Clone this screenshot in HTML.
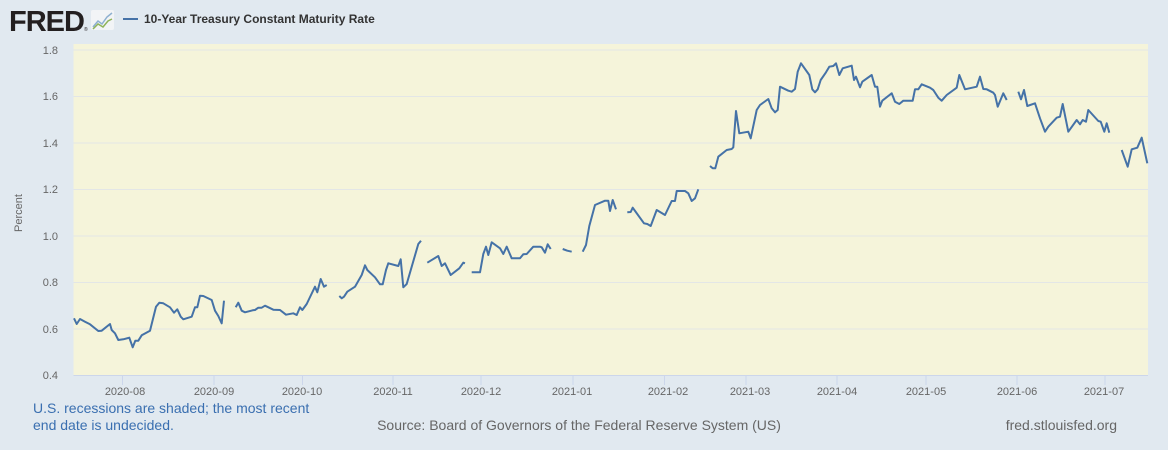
<!DOCTYPE html>
<html><head><meta charset="utf-8"><style>
body{margin:0;background:#e1e9f0;}
svg{display:block;font-family:"Liberation Sans",Arial,sans-serif;}
</style></head><body>
<svg id="s" width="1168" height="450" xmlns="http://www.w3.org/2000/svg">
<rect width="1168" height="450" fill="#e1e9f0"/>
<text x="9" y="31" font-size="29" font-weight="bold" fill="#231f20" letter-spacing="-1">FRED</text>
<text x="84" y="31" font-size="5" fill="#231f20">®</text>
<rect x="91" y="10" width="23" height="20" rx="2" fill="#f2f4f6"/>
<polyline points="93,27 98,21 102,24 107,17 112,13" fill="none" stroke="#8eb0d0" stroke-width="1.5"/>
<polyline points="93,29 98,24 103,27 108,21 112,19" fill="none" stroke="#8fb35a" stroke-width="1.5"/>
<line x1="123" y1="19" x2="138" y2="19" stroke="#4572a7" stroke-width="2"/>
<text x="144" y="23" font-size="12" font-weight="bold" fill="#333">10-Year Treasury Constant Maturity Rate</text>
<rect x="73.5" y="44" width="1074.5" height="332" fill="#f5f4da"/>
<g stroke="#e3e6e6" stroke-width="1">
<line x1="73.5" x2="1148" y1="50" y2="50"/><line x1="73.5" x2="1148" y1="96.5" y2="96.5"/>
<line x1="73.5" x2="1148" y1="143" y2="143"/><line x1="73.5" x2="1148" y1="189.5" y2="189.5"/>
<line x1="73.5" x2="1148" y1="236" y2="236"/><line x1="73.5" x2="1148" y1="282.5" y2="282.5"/>
<line x1="73.5" x2="1148" y1="329" y2="329"/>
</g>
<line x1="73.5" x2="1148" y1="375.5" y2="375.5" stroke="#ccd6eb"/>
<g font-size="11" fill="#666" text-anchor="end">
<text x="58" y="54">1.8</text><text x="58" y="100">1.6</text><text x="58" y="147">1.4</text>
<text x="58" y="193">1.2</text><text x="58" y="240">1.0</text><text x="58" y="286">0.8</text>
<text x="58" y="333">0.6</text><text x="58" y="379">0.4</text>
</g>
<text transform="translate(22,213) rotate(-90)" font-size="11" fill="#666" text-anchor="middle">Percent</text>
<g stroke="#ccd6eb"><line x1="122.5" x2="122.5" y1="376" y2="385"/><line x1="214" x2="214" y1="376" y2="385"/><line x1="302.5" x2="302.5" y1="376" y2="385"/><line x1="393" x2="393" y1="376" y2="385"/><line x1="481" x2="481" y1="376" y2="385"/><line x1="573" x2="573" y1="376" y2="385"/><line x1="664.5" x2="664.5" y1="376" y2="385"/><line x1="746" x2="746" y1="376" y2="385"/><line x1="837" x2="837" y1="376" y2="385"/><line x1="926" x2="926" y1="376" y2="385"/><line x1="1017" x2="1017" y1="376" y2="385"/><line x1="1105" x2="1105" y1="376" y2="385"/></g>
<g font-size="11" fill="#666" text-anchor="middle">
<text x="125" y="395">2020-08</text><text x="214" y="395">2020-09</text><text x="302" y="395">2020-10</text>
<text x="393" y="395">2020-11</text><text x="481" y="395">2020-12</text><text x="572" y="395">2021-01</text>
<text x="668" y="395">2021-02</text><text x="750" y="395">2021-03</text><text x="837" y="395">2021-04</text>
<text x="926" y="395">2021-05</text><text x="1017" y="395">2021-06</text><text x="1104" y="395">2021-07</text>
</g>
<g font-size="14" fill="#3a6fb0"><text x="33" y="413">U.S. recessions are shaded; the most recent</text><text x="33" y="430">end date is undecided.</text></g>
<text x="579" y="430" font-size="14" fill="#666" text-anchor="middle">Source: Board of Governors of the Federal Reserve System (US)</text>
<text x="1117" y="430" font-size="14" fill="#666" text-anchor="end">fred.stlouisfed.org</text>
<g id="L" fill="none" stroke="#4572a7" stroke-width="2" stroke-linejoin="round"></g>
</svg>
<script>
var segs=[
[70,180,[12,415,20,432,30,417,45,425,60,433,85,453,95,452,120,432,125,450,135,460,145,480,160,478,178,473,188,502,196,482,205,482,215,466,240,452,258,380,268,368,280,370,300,382,312,398,322,388,332,410,340,418,365,410,375,382,382,382,390,347,400,348,425,360,435,392,445,408,455,430,462,362]],
[70,180,[497,382,505,368,515,392,525,397,548,391,555,390,565,383,575,383,585,377,610,389,630,390,648,404,670,400,680,405,690,382,697,390,710,372,735,320,742,337,752,297,762,320,770,315]],
[70,180,[808,348,815,355,822,350,832,335,855,320,875,285,885,256,892,270,915,292,930,313,938,313,948,270,955,250,985,258,992,238,1000,322,1010,312,1045,192,1053,182]],
[420,140,[22,368,55,348,65,378,75,370,92,405,118,385,130,368,135,370]],
[420,140,[155,397,180,397,190,342,198,320,205,345,215,307,240,325,250,342,260,320,275,355,300,355,310,343,320,342,340,320,360,320,365,322,375,338,383,313,392,327]],
[420,140,[428,327,442,332,455,335]],
[420,140,[488,335,498,315,508,258,525,195,555,182,565,182,570,213,578,180,588,208]],
[420,140,[622,217,632,216,638,203,672,250,682,252,692,258,710,210,735,225,755,183,765,183,770,153,795,153,805,160,815,183,825,175,835,148]],
[700,50,[30,348,38,355,46,355,55,320,80,300,95,297,100,292,108,183,118,250,145,245,152,265,170,180,180,165,205,147,215,175,225,187,233,180,240,110,265,122,275,125,285,117,293,65,303,40,328,75,337,118,345,127,353,118,362,90,378,67,388,50,400,48,408,40,418,75,428,55,455,47,462,90,468,80,480,112,487,95,515,75,525,110,532,110,540,170,547,152,575,130,585,155,598,162,610,152,638,152,645,118,655,118,665,103,690,113,700,120,715,143,725,152,740,135,770,113,778,75,795,118,830,110,840,80,850,117,860,118,880,128,885,135,893,170,910,130,920,150]],
[700,50,[955,125,963,148,972,120,982,168,1005,160,1020,205,1035,245,1045,230,1070,203,1080,200,1088,162,1105,245,1130,210,1140,223,1148,210,1158,215,1165,180,1195,213,1202,215,1213,245,1220,220,1228,248]],
[700,50,[1265,300,1283,350,1295,298,1312,293,1325,263,1342,340]]
];
var g=document.getElementById('L'),ns='http://www.w3.org/2000/svg';
segs.forEach(function(s){var p=[];for(var i=0;i<s[2].length;i+=2)p.push((s[0]+s[2][i]/3).toFixed(1)+','+(s[1]+s[2][i+1]/3).toFixed(1));
var e=document.createElementNS(ns,'polyline');e.setAttribute('points',p.join(' '));g.appendChild(e);});
</script>
</body></html>
